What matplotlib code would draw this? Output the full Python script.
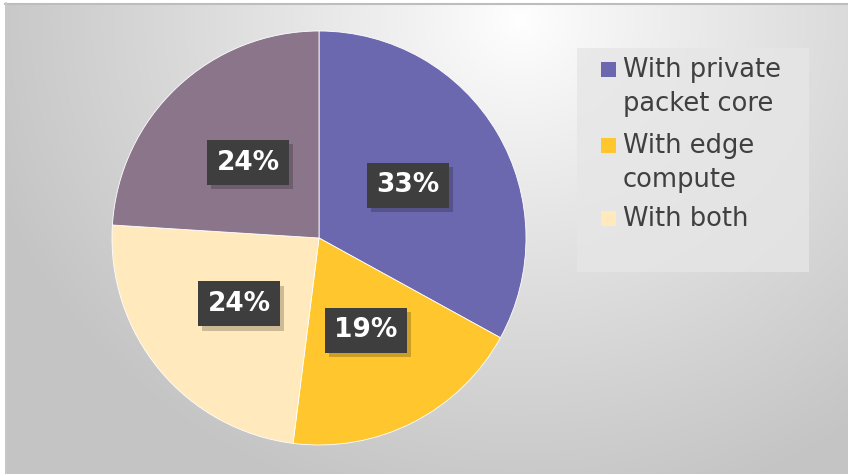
import matplotlib.pyplot as plt
import matplotlib.patheffects as pe
from matplotlib.patches import Rectangle
import numpy as np

plt.rcParams['font.family'] = ['DejaVu Sans']

# data
labels = ['With private\npacket core', 'With edge\ncompute', 'With both', 'Other']
shares = [33, 19, 24, 24]
colors = ['#6C68B0', '#FFC62E', '#FFE9BD', '#8A758B']
legend_count = 3

W, H = 848, 474
fig = plt.figure(figsize=(W / 100, H / 100), dpi=100)
fig.patch.set_facecolor('white')

# background: radial gradient, light at top centre, grey at the corners
bg = fig.add_axes([0, 0, 1, 1])
yy, xx = np.mgrid[0:H, 0:W]
d = np.sqrt((xx - 520) ** 2 + ((yy - 20) / 0.9) ** 2)
t = np.clip(d / 560, 0, 1) ** 0.9
val = 1.0 - t * (1.0 - 0.77)
img = np.dstack([val, val, val])
bg.imshow(img, extent=[0, W, H, 0], aspect='auto', interpolation='bilinear')
bg.set_xlim(0, W)
bg.set_ylim(H, 0)
bg.axis('off')
# white margin + thin border round the chart area
bg.add_patch(Rectangle((0, 0), W, 3, facecolor='white', edgecolor='none'))
bg.add_patch(Rectangle((0, 0), 5, H, facecolor='white', edgecolor='none'))
bg.plot([5, W], [3.5, 3.5], color='#bdbdbd', lw=1.5)
bg.plot([5.5, 5.5], [3, H], color='#c8c8c8', lw=1.2)

# legend box
bg.add_patch(Rectangle((577, 48), 232, 224, facecolor='#e6e6e6', edgecolor='none', alpha=0.8))

# pie
cx, cy, r = 319, 238, 207
ax = fig.add_axes([(cx - r) / W, (H - cy - r) / H, 2 * r / W, 2 * r / H])
wedges, _, autotexts = ax.pie(shares, colors=colors, startangle=90, counterclock=False,
                              autopct='%d%%', pctdistance=0.5, radius=1.0,
                              wedgeprops=dict(linewidth=0.6, edgecolor='white'))
ax.set_xlim(-1, 1)
ax.set_ylim(-1, 1)
ax.set_aspect('equal')

for at in autotexts:
    at.set_color('white')
    at.set_fontweight('bold')
    at.set_fontsize(19)
    at.set_bbox(dict(boxstyle='square,pad=0.36', facecolor='#3E3E3E', edgecolor='none'))
    at.get_bbox_patch().set_path_effects([
        pe.withSimplePatchShadow(offset=(3, -3), shadow_rgbFace='black', alpha=0.2)])

# legend (first three slices only), one text per line so the baselines match
base = [77, 153, 226]
step = 34
for i in range(legend_count):
    bg.add_patch(Rectangle((601, base[i] - 15), 15, 15, facecolor=colors[i], edgecolor='none'))
    for k, line in enumerate(labels[i].split('\n')):
        bg.text(623, base[i] + k * step, line, fontsize=18.5, color='#404040',
                va='baseline', ha='left')

fig.savefig('out.png', dpi=100)
